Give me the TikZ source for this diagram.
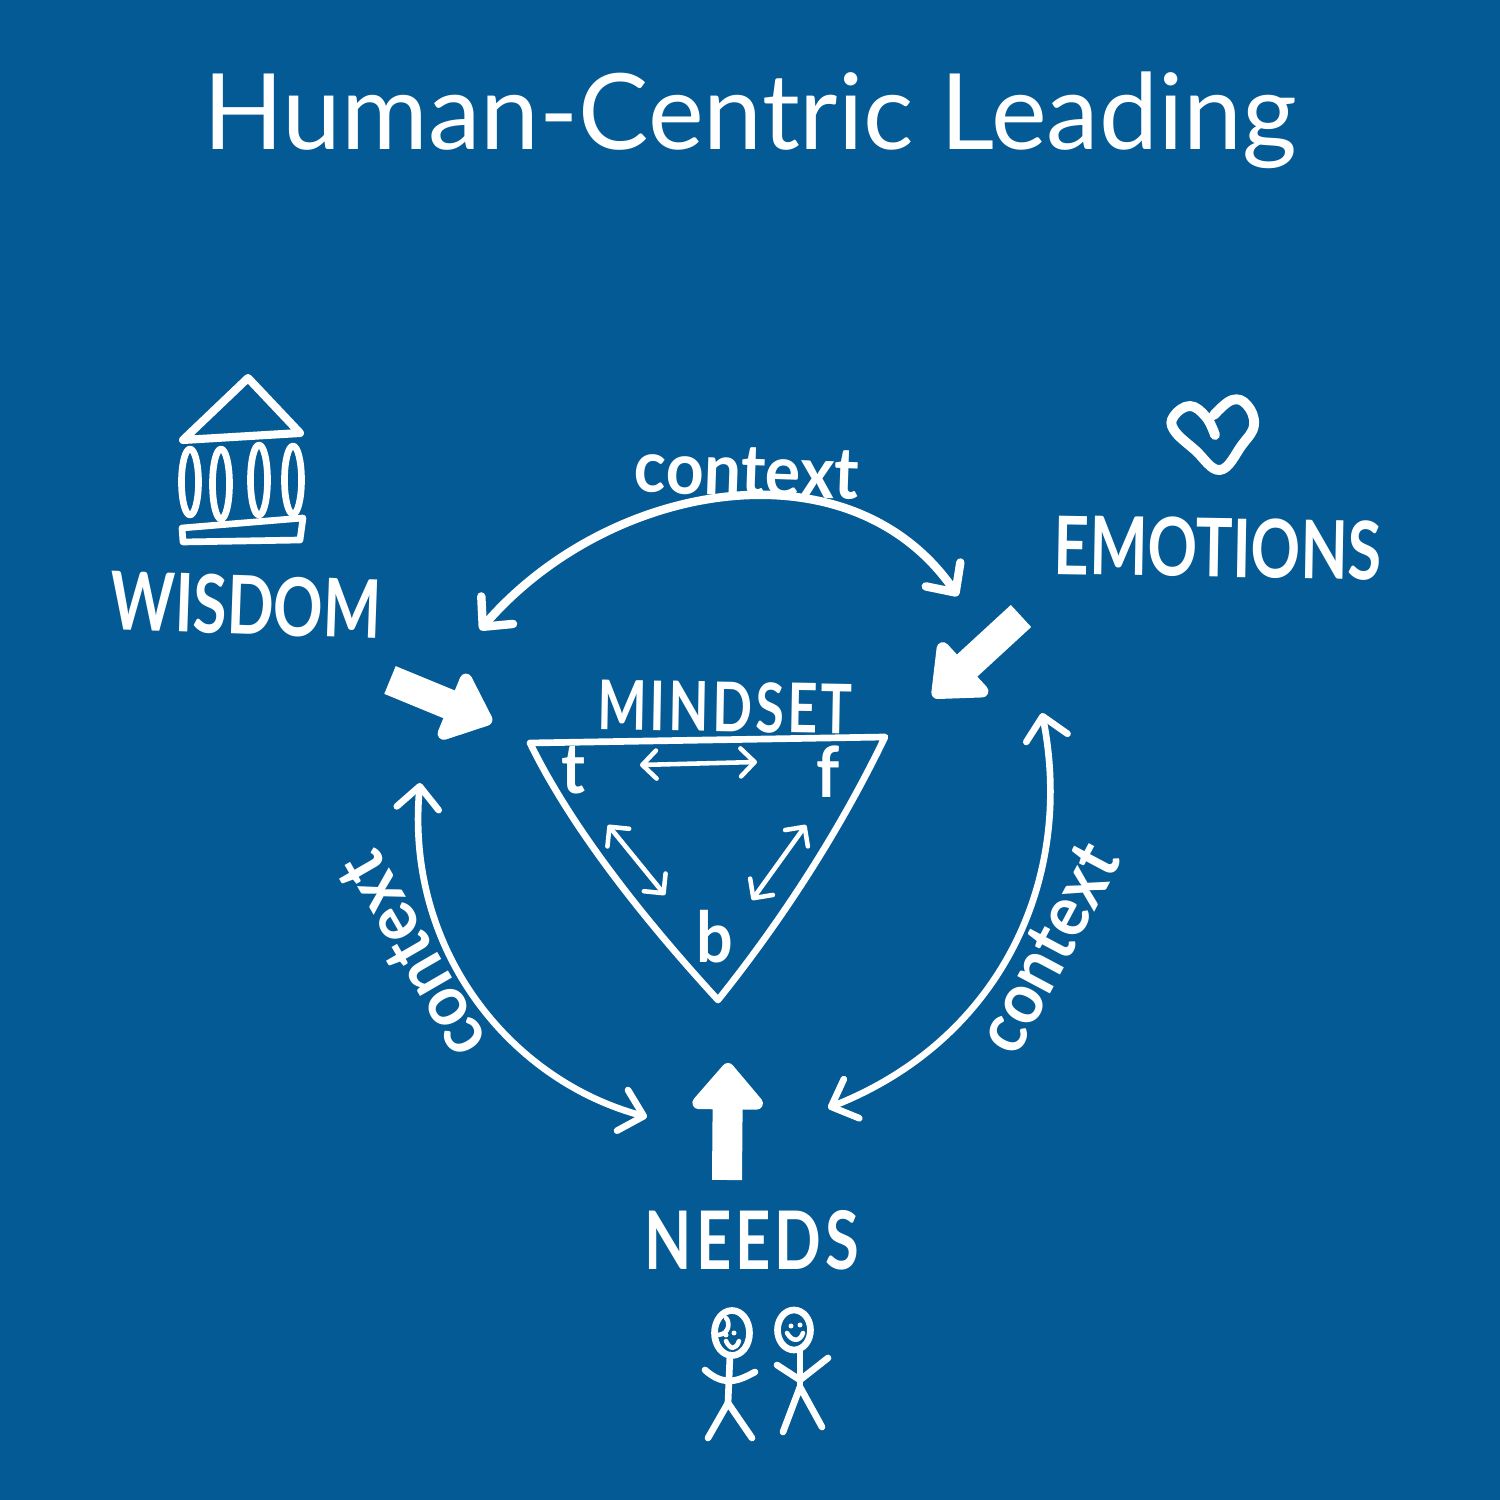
\documentclass[tikz,border=0pt]{standalone}
\usepackage{fontspec}
\setmainfont{Lato}
\newfontfamily\capsfont[FakeStretch=.76]{Lato Bold}
\newfontfamily\spacedfont[FakeStretch=.76,LetterSpace=5]{Lato Bold}
\newfontfamily\lowerfont[FakeStretch=.92]{Lato Bold}
\usetikzlibrary{arrows.meta}
\definecolor{boardblue}{HTML}{035A94}

\begin{document}
\begin{tikzpicture}[
    sketch/.style={draw=white,line width=1.9pt,line cap=round,line join=round},
    thin sketch/.style={draw=white,line width=1.3pt,line cap=round,line join=round},
    context arrow/.style={sketch,{Straight Barb[length=2.2mm,width=4.2mm,round]}-{Straight Barb[length=2.2mm,width=4.2mm,round]}},
    small arrow/.style={thin sketch,{Straight Barb[length=1.4mm,width=2.8mm,round]}-{Straight Barb[length=1.4mm,width=2.8mm,round]}},
    big arrow/.style={draw=white,fill=white,line width=3mm,-{Triangle[length=5mm,width=8.2mm,round]}},
    title/.style={text=white,font=\fontsize{30}{32}\selectfont,anchor=base},
    label/.style={text=white,font=\capsfont\fontsize{23}{25}\selectfont},
    context/.style={text=white,font=\lowerfont\fontsize{20.5}{22}\selectfont},
    corner/.style={text=white,font=\lowerfont\fontsize{20}{22}\selectfont},
    ]
        \useasboundingbox (0,0) rectangle (15,15);
        \fill[boardblue] (0,0) rectangle (15,15);
        % Title
        \node[title] (heading) at (7.5,13.5) {Human-Centric Leading};
        % Labels
        \node[label,rotate=-2] (wisdom) at (2.46,8.95) {WISDOM};
        \node[label,rotate=-1] (emotions) at (12.18,9.52) {EMOTIONS};
        \node[label,font=\spacedfont\fontsize{23}{25}\selectfont] (needs) at (7.52,2.6) {NEEDS};
        \node[label,font=\spacedfont\fontsize{19.5}{21}\selectfont,rotate=-1] (mindset) at (7.25,7.93) {MINDSET};
        % Temple
        \draw[sketch,line width=2.3pt] (1.83,10.6) -- (2.48,11.22) -- (3,10.67) -- cycle;
        \draw[sketch] (1.9,10.18) ellipse (.085 and .33);
        \draw[sketch] (2.21,10.16) ellipse (.085 and .35);
        \draw[sketch] (2.59,10.2) ellipse (.085 and .35);
        \draw[sketch] (2.93,10.2) ellipse (.085 and .34);
        \draw[sketch] (1.82,9.72) -- (3.03,9.82) -- (3,9.6) -- (1.83,9.58) -- cycle;
        % Heart
        \draw[sketch,line width=2.8pt] plot[smooth,tension=.7] coordinates {(12.15,10.65) (12.06,10.83) (11.9,10.94) (11.74,10.84) (11.74,10.7) (11.95,10.5) (12.2,10.3) (12.42,10.55) (12.54,10.75) (12.47,10.95) (12.32,11) (12.14,10.85)};
        % Triangle
        \coordinate (top left) at (5.3,7.57);
        \coordinate (top right) at (8.85,7.63);
        \coordinate (bottom) at (7.18,5);
        \draw[sketch] (top left) -- (top right) .. controls (8.45,6.8) and (7.9,5.9) .. (bottom) .. controls (6.4,5.85) and (5.7,6.75) .. (top left);
        \node[corner] (t) at (5.74,7.3) {t};
        \node[corner] (f) at (8.28,7.28) {f};
        \node[corner] (b) at (7.15,5.63) {b};
        \coordinate (t east) at (6.4,7.35);
        \coordinate (f west) at (7.57,7.38);
        \coordinate (t south) at (6.08,6.75);
        \coordinate (b north west) at (6.65,6.05);
        \coordinate (f south) at (8.06,6.75);
        \coordinate (b north east) at (7.52,6);
        \draw[small arrow] (t east) -- (f west);
        \draw[small arrow] (t south) -- (b north west);
        \draw[small arrow] (f south) -- (b north east);
        % Context arrows
        \coordinate (cycle wisdom) at (4.8,8.7);
        \coordinate (cycle emotions) at (9.58,9.04);
        \coordinate (cycle emotions low) at (10.42,7.87);
        \coordinate (cycle needs right) at (8.28,3.92);
        \coordinate (cycle needs left) at (6.47,3.83);
        \coordinate (cycle wisdom low) at (4.2,7.17);
        \draw[context arrow,line width=2.4pt] (cycle wisdom) .. controls (6.1,10.2) and (8.5,10.6) .. (cycle emotions);
        \draw[context arrow] (cycle needs right) .. controls (10,4.6) and (10.75,6.2) .. (cycle emotions low);
        \draw[context arrow] (cycle wisdom low) .. controls (4.05,5.5) and (5.1,4.2) .. (cycle needs left);
        \node[context,rotate=-2] (context top) at (7.47,10.28) {context};
        \node[context,rotate=62] (context right) at (10.48,5.52) {context};
        \node[context,rotate=120] (context left) at (4.12,5.44) {context};
        % Big arrows
        \coordinate (wisdom tail) at (3.9,8.2);
        \coordinate (wisdom tip) at (4.92,7.78);
        \coordinate (emotions tail) at (10.21,8.84);
        \coordinate (emotions tip) at (9.33,8.03);
        \coordinate (needs tail) at (7.27,3.2);
        \coordinate (needs tip) at (7.28,4.37);
        \draw[big arrow] (wisdom tail) -- (wisdom tip);
        \draw[big arrow] (emotions tail) -- (emotions tip);
        \draw[big arrow] (needs tail) -- (needs tip);
        % People
        \draw[sketch] (7.32,1.67) ellipse (.175 and .225);
        \draw[thin sketch] (7.18,1.65) .. controls (7.3,1.66) and (7.3,1.78) .. (7.26,1.82);
        \draw[sketch] (7.3,1.45) -- (7.28,.97);
        \draw[sketch] (7.05,1.3) .. controls (7.25,1.12) and (7.4,1.2) .. (7.55,1.28);
        \draw[sketch] (7.08,.62) -- (7.28,.97) -- (7.52,.62);
        \fill[white] (7.26,1.65) circle (.025);
        \fill[white] (7.34,1.67) circle (.025);
        \draw[thin sketch] (7.26,1.59) .. controls (7.3,1.5) and (7.36,1.5) .. (7.39,1.59);
        \draw[sketch] (7.94,1.7) ellipse (.165 and .2);
        \draw[sketch] (8,1.5) -- (8,1.13);
        \draw[sketch] (7.77,1.35) -- (8,1.2) -- (8.28,1.42);
        \draw[sketch] (7.83,.68) -- (8,1.13) -- (8.22,.73);
        \fill[white] (7.91,1.74) circle (.025);
        \fill[white] (8,1.75) circle (.025);
        \draw[thin sketch] (7.87,1.67) .. controls (7.92,1.58) and (8,1.58) .. (8.03,1.67);
    \end{tikzpicture}
\end{document}
